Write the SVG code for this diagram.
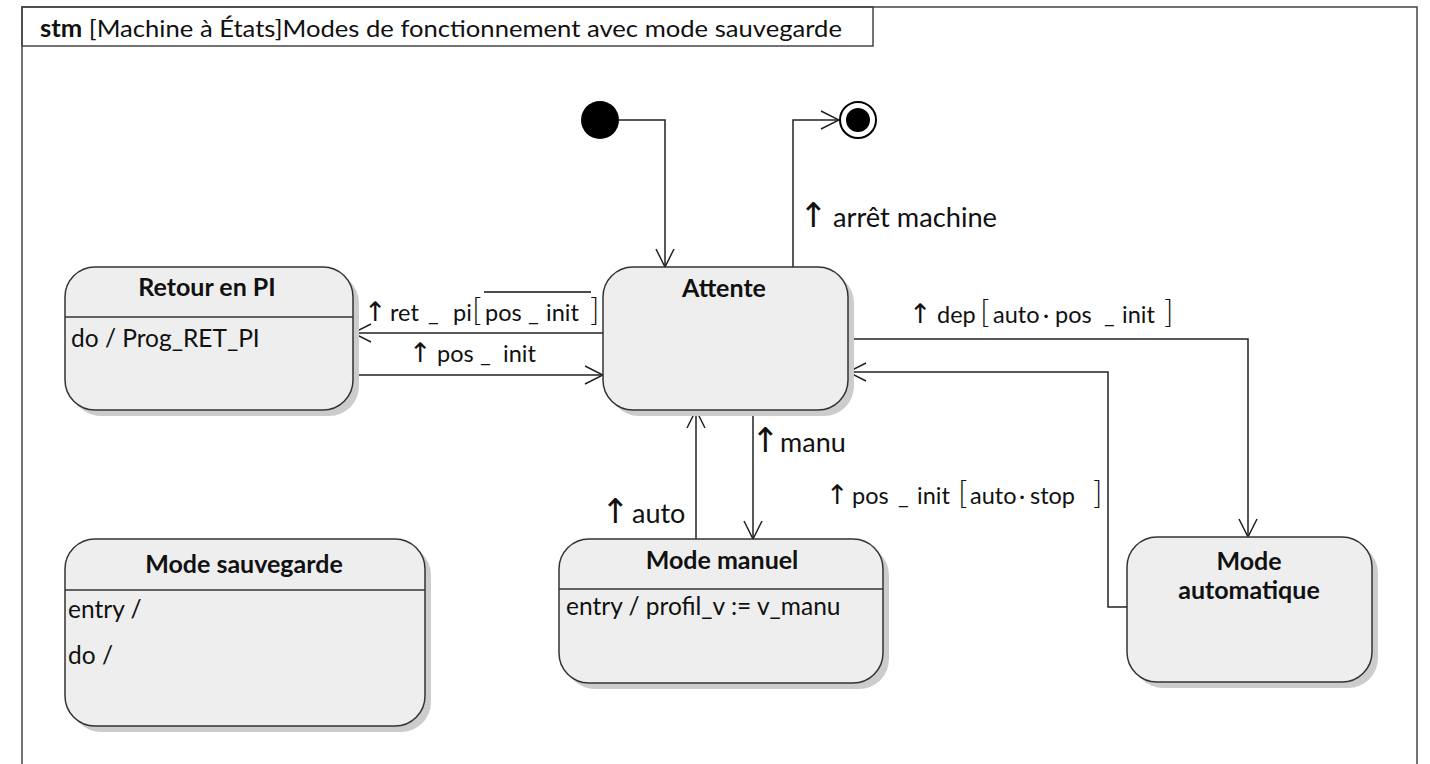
<svg xmlns="http://www.w3.org/2000/svg" width="1430" height="764" viewBox="0 0 1430 764">
<defs>
<style>
.frame{fill:none;stroke:#444;stroke-width:1.5}
.shadow{fill:#cccccc}
.state{fill:#eeeeee;stroke:#333;stroke-width:1.5}
.sep{stroke:#333;stroke-width:1.5}
.conn{fill:none;stroke:#222;stroke-width:1.5}
.title{font-family:Lato,"Liberation Sans",sans-serif;font-weight:bold;font-size:25px;fill:#111;text-anchor:middle}
.body{font-family:Lato,"Liberation Sans",sans-serif;font-size:24.5px;fill:#111}
.lbl{font-family:Lato,"DejaVu Sans",sans-serif;font-size:27px;fill:#111}
.mlbl{font-family:Lato,"DejaVu Sans",sans-serif;font-size:23.5px;fill:#111}
.arr{font-family:"DejaVu Sans",sans-serif;font-size:34px;fill:#111}
.marr{font-family:"DejaVu Sans",sans-serif;font-size:27px;fill:#111}
.br{font-size:32px;font-weight:300}
.hdr{font-family:Lato,"Liberation Sans",sans-serif;font-size:24px;fill:#111}
</style>
<marker id="open" viewBox="0 0 20 20" refX="19" refY="10" markerWidth="20" markerHeight="20" markerUnits="userSpaceOnUse" orient="auto">
<path d="M1,1 L19,10 L1,19" fill="none" stroke="#222" stroke-width="1.5"/>
</marker>
</defs>
<rect width="1430" height="764" fill="#ffffff"/>
<g id="frame">
<path class="frame" d="M22,764 V7 H1417 V764"/>
<rect class="frame" x="22" y="7" width="851" height="39" fill="#fff"/>
<text class="hdr" x="40" y="37" textLength="802" lengthAdjust="spacingAndGlyphs"><tspan font-weight="bold">stm</tspan> [Machine à États]Modes de fonctionnement avec mode sauvegarde</text>
</g>
<g id="connectors">
<path class="conn" d="M619,120 H665 V267" marker-end="url(#open)"/>
<path class="conn" d="M793,267 V120 H839" marker-end="url(#open)"/>
<path class="conn" d="M603,333 H353" marker-end="url(#open)"/>
<path class="conn" d="M353,375 H603" marker-end="url(#open)"/>
<path class="conn" d="M848,339 H1248 V537" marker-end="url(#open)"/>
<path class="conn" d="M1127,607 H1108 V372 H848" marker-end="url(#open)"/>
<path class="conn" d="M696,539 V410" marker-end="url(#open)"/>
<path class="conn" d="M753,410 V539" marker-end="url(#open)"/>
<g id="labels">
<text class="lbl" y="227"><tspan class="arr" x="799">↑</tspan><tspan x="833" textLength="164" lengthAdjust="spacingAndGlyphs">arrêt machine</tspan></text>
<text class="mlbl" y="321"><tspan class="marr" x="364">↑</tspan><tspan x="390">ret</tspan><tspan x="428">_</tspan><tspan x="453">pi</tspan><tspan class="br" x="472">[</tspan><tspan x="485">pos</tspan><tspan x="528">_</tspan><tspan x="546">init</tspan><tspan class="br" x="590">]</tspan></text>
<line x1="484" y1="292" x2="591" y2="292" stroke="#111" stroke-width="1.5"/>
<text class="mlbl" y="362"><tspan class="marr" x="409">↑</tspan><tspan x="437">pos</tspan><tspan x="480">_</tspan><tspan x="503">init</tspan></text>
<text class="mlbl" y="323"><tspan class="marr" x="909">↑</tspan><tspan x="937">dep</tspan><tspan class="br" x="980">[</tspan><tspan x="993">auto</tspan><tspan x="1043">·</tspan><tspan x="1055">pos</tspan><tspan x="1104">_</tspan><tspan x="1122">init</tspan><tspan class="br" x="1164">]</tspan></text>
<text class="mlbl" y="504"><tspan class="marr" x="826">↑</tspan><tspan x="852">pos</tspan><tspan x="898">_</tspan><tspan x="917">init</tspan><tspan class="br" x="958">[</tspan><tspan x="970">auto</tspan><tspan x="1019">·</tspan><tspan x="1030">stop</tspan><tspan class="br" x="1093">]</tspan></text>
<text class="lbl" y="452"><tspan class="arr" x="751">↑</tspan><tspan x="780">manu</tspan></text>
<text class="lbl" y="523"><tspan class="arr" x="601">↑</tspan><tspan x="632">auto</tspan></text>
</g>
</g>
<g id="initial">
<circle cx="600" cy="120" r="19" fill="#000"/>
</g>
<g id="final">
<circle cx="858" cy="120" r="18" fill="#fff" stroke="#000" stroke-width="2"/>
<circle cx="858" cy="120" r="12" fill="#000"/>
</g>
<g id="retour-pi">
<rect class="shadow" x="71" y="273" width="288" height="143" rx="30"/>
<rect class="state" x="65" y="267" width="288" height="143" rx="30"/>
<line class="sep" x1="65" y1="317" x2="353" y2="317"/>
<text class="title" x="207" y="296">Retour en PI</text>
<text class="body" x="71" y="347">do / Prog_RET_PI</text>
</g>
<g id="attente">
<rect class="shadow" x="609" y="273" width="245" height="143" rx="30"/>
<rect class="state" x="603" y="267" width="245" height="143" rx="30"/>
<text class="title" x="724" y="297">Attente</text>
</g>
<g id="mode-manuel">
<rect class="shadow" x="565" y="545" width="324" height="144" rx="30"/>
<rect class="state" x="559" y="539" width="324" height="144" rx="30"/>
<line class="sep" x1="559" y1="589" x2="883" y2="589"/>
<text class="title" x="722" y="569">Mode manuel</text>
<text class="body" x="566" y="615">entry / profil_v := v_manu</text>
</g>
<g id="mode-automatique">
<rect class="shadow" x="1133" y="543" width="245" height="145" rx="30"/>
<rect class="state" x="1127" y="537" width="245" height="145" rx="30"/>
<text class="title" x="1249" y="570">Mode</text>
<text class="title" x="1249" y="599">automatique</text>
</g>
<g id="mode-sauvegarde">
<rect class="shadow" x="71" y="545" width="360" height="187" rx="30"/>
<rect class="state" x="65" y="539" width="360" height="187" rx="30"/>
<line class="sep" x1="65" y1="590" x2="425" y2="590"/>
<text class="title" x="244" y="573">Mode sauvegarde</text>
<text class="body" x="68" y="618">entry /</text>
<text class="body" x="68" y="664">do /</text>
</g>
</svg>
